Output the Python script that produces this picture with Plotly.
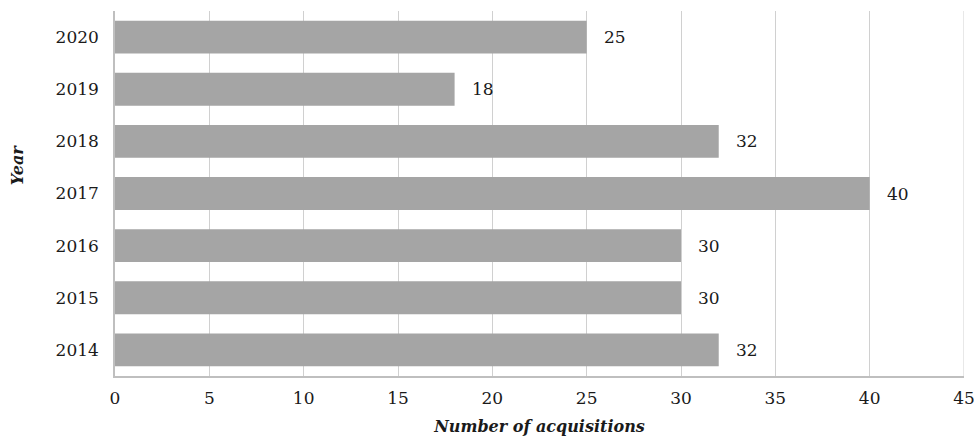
import plotly.graph_objects as go

years = ["2014", "2015", "2016", "2017", "2018", "2019", "2020"]
acquisitions = [32, 30, 30, 40, 32, 18, 25]
x_ticks = [0, 5, 10, 15, 20, 25, 30, 35, 40, 45]

FONT = "DejaVu Serif"
BAR = "#a5a5a5"
TEXT = "#1a1a1a"
positions = list(range(len(years)))

fig = go.Figure(
    go.Bar(
        y=positions,
        x=acquisitions,
        orientation="h",
        width=0.63,
        marker=dict(color=BAR, line=dict(width=0)),
        hoverinfo="skip",
    )
)

# value labels just past the end of each bar
for pos, v in zip(positions, acquisitions):
    fig.add_annotation(
        x=v, y=pos, text=str(v), showarrow=False,
        xanchor="left", yanchor="middle", xshift=15,
        font=dict(family=FONT, size=17, color=TEXT),
    )

# closing gridline at the end of the value axis
fig.add_shape(
    type="line", xref="x", yref="paper",
    x0=x_ticks[-1], x1=x_ticks[-1], y0=0, y1=1,
    line=dict(color="#d0d0d0", width=1),
)

# vertical axis title
fig.add_annotation(
    xref="paper", yref="paper", x=-0.1155, y=0.58,
    text="<b><i>Year</i></b>", textangle=-90, showarrow=False,
    xanchor="center", yanchor="middle",
    font=dict(family=FONT, size=16, color=TEXT),
)

fig.update_layout(
    width=974, height=440,
    margin=dict(l=115, r=10, t=11, b=64, autoexpand=False),
    paper_bgcolor="white", plot_bgcolor="white",
    showlegend=False,
    font=dict(family=FONT, size=17, color=TEXT),
    xaxis=dict(
        range=[0, 45], tickvals=x_ticks, ticktext=[str(t) for t in x_ticks],
        showgrid=True, gridcolor="#d0d0d0", gridwidth=1,
        zeroline=False, showline=True, linecolor="#bfbfbf", linewidth=1.5,
        ticks="outside", ticklen=6, tickcolor="rgba(0,0,0,0)",
        ticklabeloverflow="allow", automargin=False,
        title=dict(text="<b><i>Number of acquisitions</i></b>", font=dict(family=FONT, size=16), standoff=14),
        tickfont=dict(family=FONT, size=17),
    ),
    yaxis=dict(
        range=[-0.5, len(years) - 0.5],
        tickvals=positions, ticktext=years,
        showgrid=False, zeroline=False, showline=True, linecolor="#bfbfbf", linewidth=1.5,
        ticks="outside", ticklen=11, tickcolor="rgba(0,0,0,0)",
        automargin=False,
        tickfont=dict(family=FONT, size=17),
    ),
)

fig.write_html("out.html")
